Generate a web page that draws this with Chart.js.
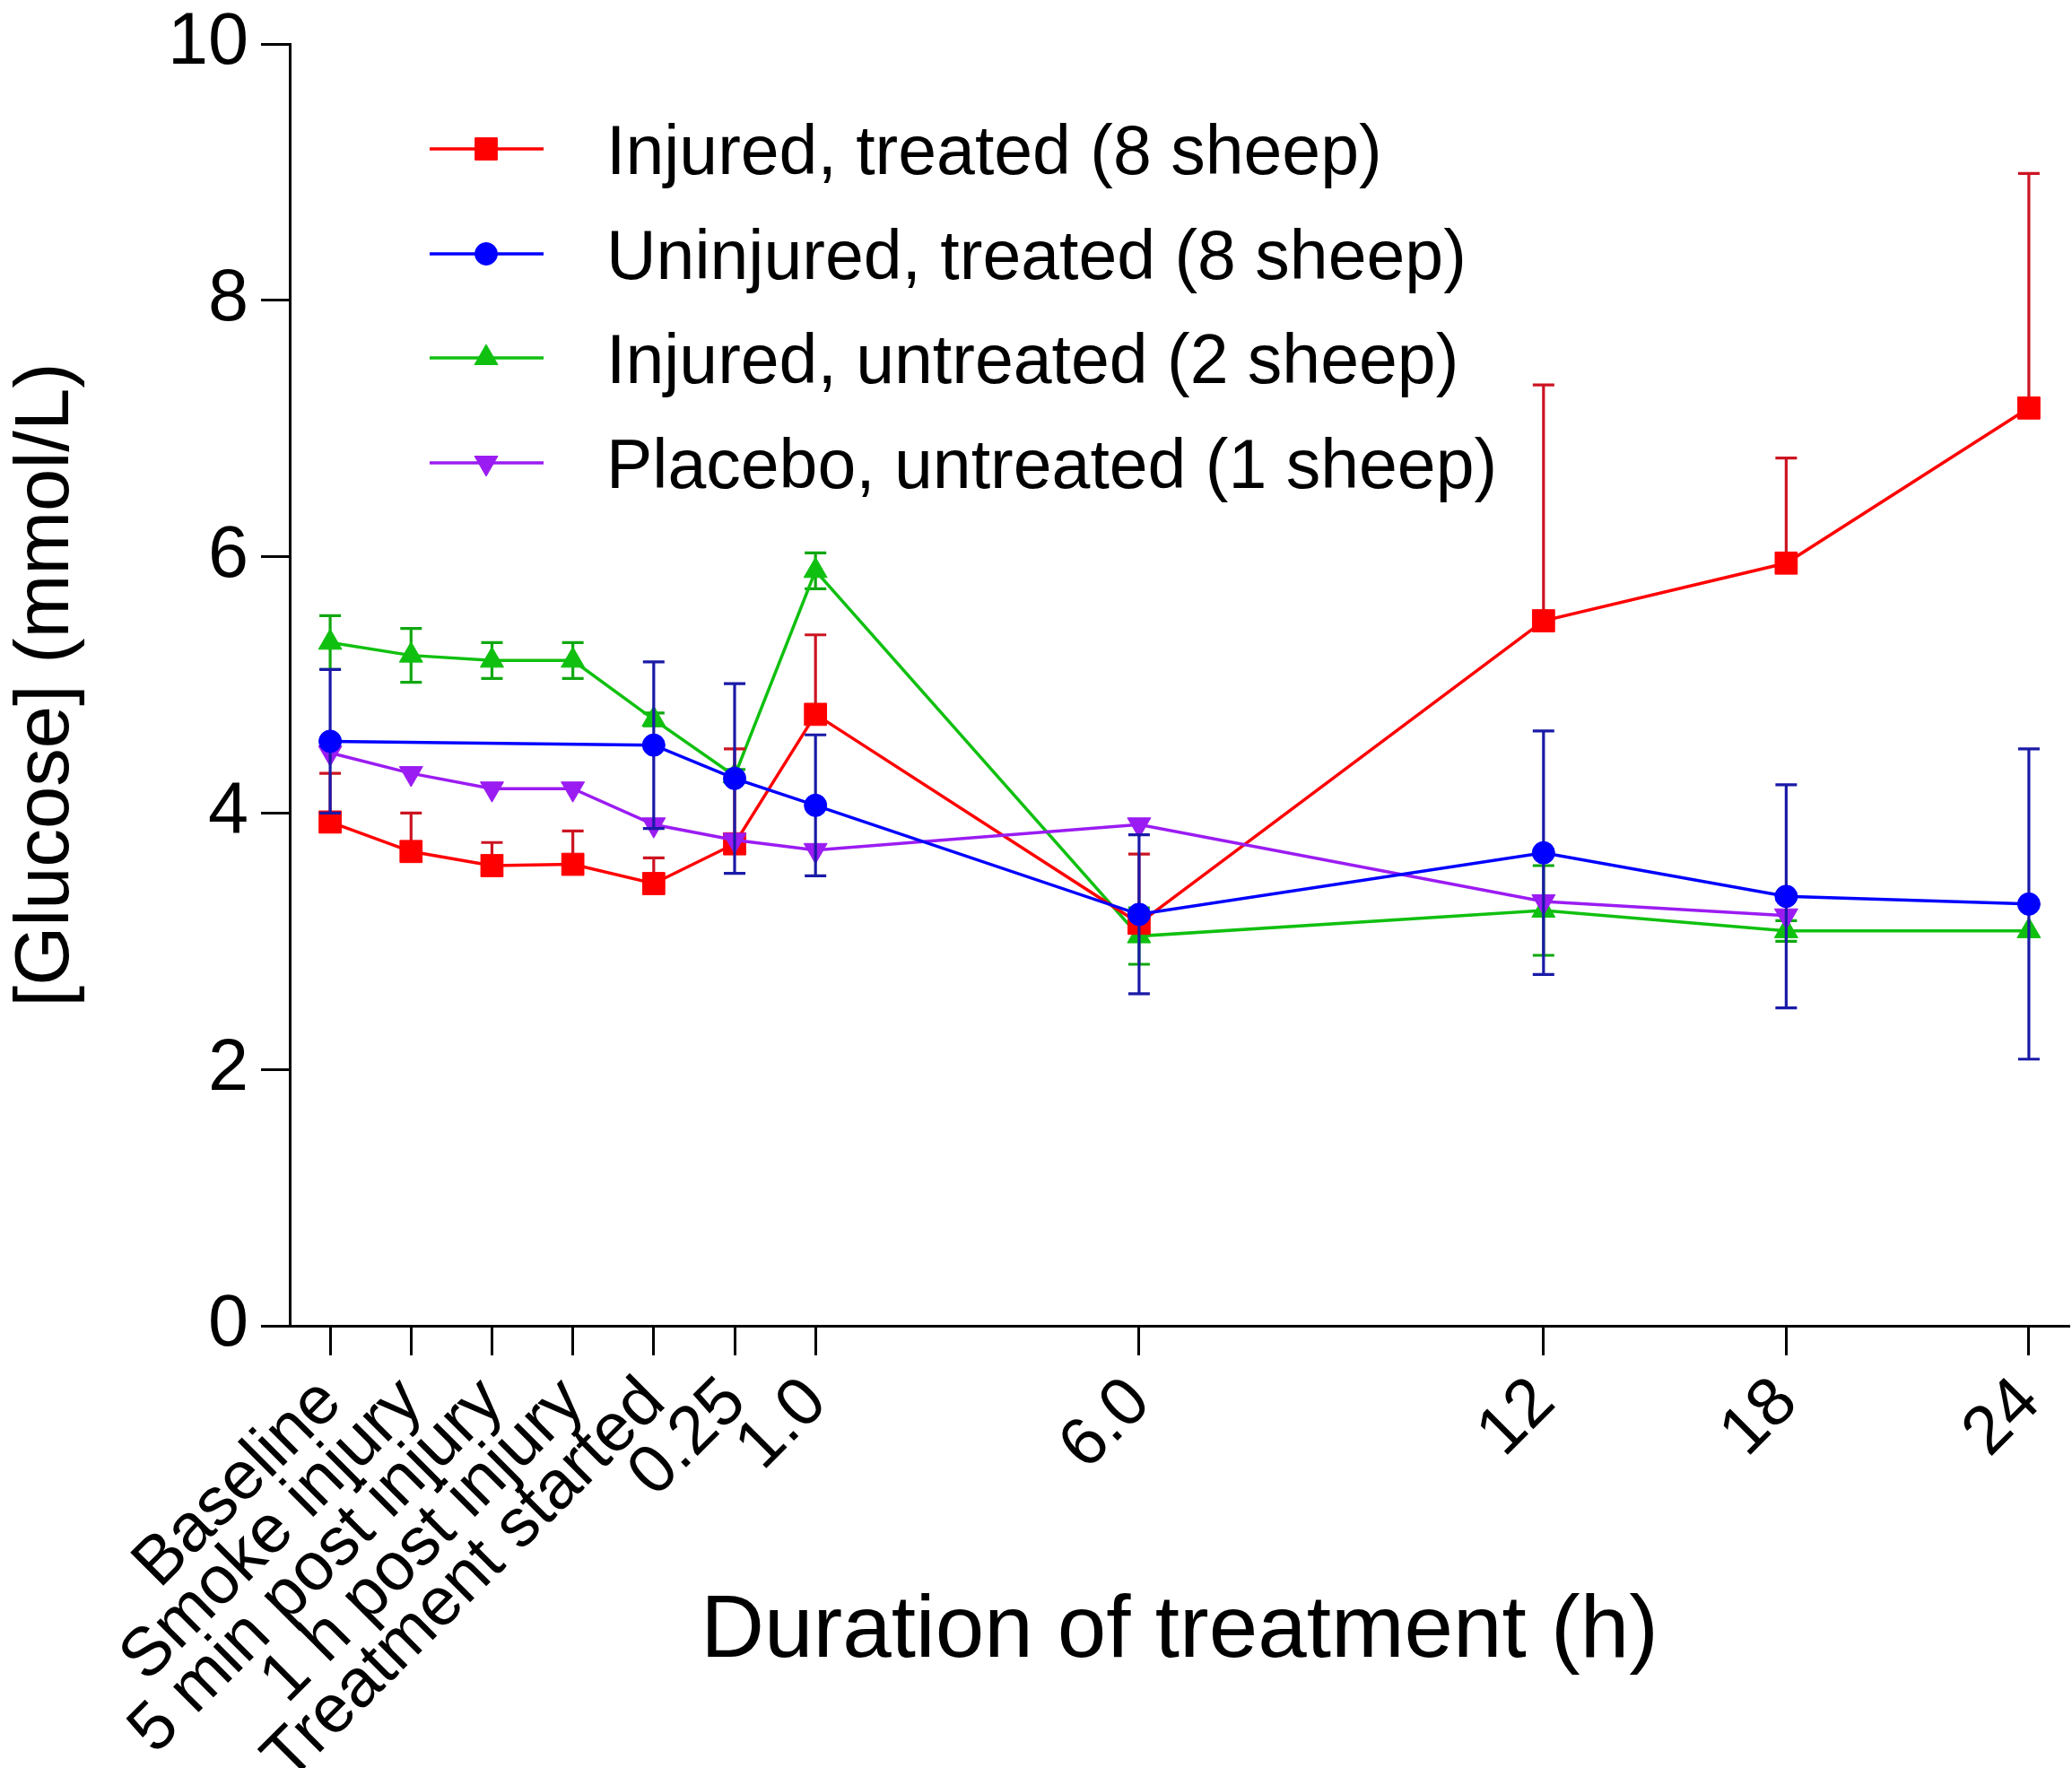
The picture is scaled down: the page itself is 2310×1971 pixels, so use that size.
<!DOCTYPE html>
<html>
<head>
<meta charset="utf-8">
<title>Blood glucose during treatment</title>
<script src="https://cdn.jsdelivr.net/npm/chart.js@4"></script>
<style>
  html, body { margin: 0; padding: 0; background: #ffffff; }
  #wrap { width: 2310px; height: 1971px; }
</style>
</head>
<body>
<div id="wrap"><canvas id="chart" width="2310" height="1971"></canvas></div>
<script>
// Sampling points and where each one sits along the horizontal axis
const TIME_LABELS = ['Baseline', 'Smoke injury', '5 min post injury', '1 h post injury',
                     'Treatment started', '0.25', '1.0', '6.0', '12', '18', '24'];
const TIME_POS = [0, 1, 2, 3, 4, 5, 6, 10, 15, 18, 21];
const Y_TICKS = [0, 2, 4, 6, 8, 10];

// Mean glucose (mmol/L) and error for each group
const INJURED_TREATED      = [3.93, 3.70, 3.59, 3.60, 3.45, 3.76, 4.77, 3.14, 5.50, 5.95, 7.16];
const INJURED_TREATED_ERR  = [0.38, 0.30, 0.18, 0.26, 0.20, 0.74, 0.62, 0.54, 1.84, 0.82, 1.83];

const UNINJURED_TREATED     = [4.56, null, null, null, 4.53, 4.27, 4.06, 3.21, 3.69, 3.35, 3.29];
const UNINJURED_TREATED_ERR = [0.56, null, null, null, 0.65, 0.74, 0.55, 0.62, 0.95, 0.87, 1.21];

const INJURED_UNTREATED     = [5.33, 5.23, 5.19, 5.19, 4.73, 4.29, 5.89, 3.04, 3.24, 3.08, 3.08];
const INJURED_UNTREATED_ERR = [0.21, 0.21, 0.14, 0.14, 0.05, 0.05, 0.14, 0.22, 0.35, 0.08, 0.00];

const PLACEBO_UNTREATED = [4.47, 4.31, 4.19, 4.19, 3.91, 3.79, 3.71, 3.91, 3.31, 3.20, null];

const FONT = '"Liberation Sans", Arial, Helvetica, sans-serif';
Chart.defaults.font.family = FONT;
Chart.defaults.color = '#000000';

function toPoints(values) {
  const pts = [];
  values.forEach((v, i) => { pts.push({ x: TIME_POS[i], y: v }); });
  return pts;
}

function series(label, values, color, style, radius, rotation, order, errors, errColor, errMode) {
  return {
    label: label,
    data: toPoints(values),
    borderColor: color,
    backgroundColor: color,
    borderWidth: 3.5,
    pointStyle: style,
    pointRadius: radius,
    pointRotation: rotation,
    pointBackgroundColor: color,
    pointBorderColor: color,
    pointBorderWidth: 1,
    pointHoverRadius: radius,
    tension: 0,
    spanGaps: true,
    order: order,
    errors: errors,
    errorColor: errColor,
    errorMode: errMode
  };
}

const datasets = [
  series('Injured, treated (8 sheep)', INJURED_TREATED, '#ff0000', 'rect', 17.5, 0, 2,
         INJURED_TREATED_ERR, '#cc1422', 'up'),
  series('Uninjured, treated (8 sheep)', UNINJURED_TREATED, '#0000ff', 'circle', 12.5, 0, 0,
         UNINJURED_TREATED_ERR, '#1a1aa8', 'both'),
  series('Injured, untreated (2 sheep)', INJURED_UNTREATED, '#10c010', 'triangle', 15, 0, 3,
         INJURED_UNTREATED_ERR, '#10a810', 'both'),
  series('Placebo, untreated (1 sheep)', PLACEBO_UNTREATED, '#9b1cf2', 'triangle', 15, 180, 1,
         null, null, null)
];

// Vertical error bars with caps, drawn just before each group's line and markers
const errorBars = {
  id: 'errorBars',
  beforeDatasetDraw(chart, args) {
    const ds = chart.data.datasets[args.index];
    if (!ds.errors) return;
    const xs = chart.scales.x, ys = chart.scales.y, ctx = chart.ctx;
    const cap = 12;
    ctx.save();
    ctx.strokeStyle = ds.errorColor;
    ctx.lineWidth = 3.2;
    ds.data.forEach((p, i) => {
      const e = ds.errors[i];
      if (p.y === null || e === null || e <= 0) return;
      const px = xs.getPixelForValue(p.x);
      const pc = ys.getPixelForValue(p.y);
      const pt = ys.getPixelForValue(p.y + e);
      const pb = ds.errorMode === 'up' ? pc : ys.getPixelForValue(p.y - e);
      ctx.beginPath();
      ctx.moveTo(px, pt); ctx.lineTo(px, pb);
      ctx.moveTo(px - cap, pt); ctx.lineTo(px + cap, pt);
      if (ds.errorMode !== 'up') { ctx.moveTo(px - cap, pb); ctx.lineTo(px + cap, pb); }
      ctx.stroke();
    });
    ctx.restore();
  }
};

// Legend inside the plot area, upper left
const insideLegend = {
  id: 'insideLegend',
  afterDraw(chart) {
    const ctx = chart.ctx;
    const rows = [166, 283, 399, 516];
    const lineX0 = 479, lineX1 = 606, markX = 542, textX = 676;
    ctx.save();
    chart.data.datasets.forEach((ds, i) => {
      const y = rows[i];
      ctx.strokeStyle = ds.borderColor;
      ctx.lineWidth = 3.5;
      ctx.beginPath();
      ctx.moveTo(lineX0, y); ctx.lineTo(lineX1, y);
      ctx.stroke();
      ctx.fillStyle = ds.borderColor;
      ctx.lineWidth = 1;
      Chart.helpers.drawPoint(ctx, {
        pointStyle: ds.pointStyle, radius: ds.pointRadius,
        rotation: ds.pointRotation, borderWidth: 1
      }, markX, y);
      ctx.fillStyle = '#000000';
      ctx.font = '77px ' + FONT;
      ctx.textAlign = 'left';
      ctx.textBaseline = 'alphabetic';
      ctx.fillText(ds.label, textX, y + 28);
    });
    ctx.restore();
  }
};

new Chart(document.getElementById('chart'), {
  type: 'line',
  data: { datasets: datasets },
  plugins: [errorBars, insideLegend],
  options: {
    responsive: false,
    maintainAspectRatio: false,
    devicePixelRatio: 1,
    animation: false,
    layout: { autoPadding: false, padding: { top: 49, right: 3, left: 0, bottom: 0 } },
    plugins: { legend: { display: false }, tooltip: { enabled: false } },
    scales: {
      x: {
        type: 'linear',
        min: -0.5,
        max: 21.5,
        afterBuildTicks(scale) { scale.ticks = TIME_POS.map(v => ({ value: v })); },
        afterFit(scale) {
          scale.height = 493;
          scale.paddingLeft = 0; scale.paddingRight = 0;
        },
        ticks: {
          autoSkip: false,
          minRotation: 45,
          maxRotation: 45,
          padding: 8,
          labelOffset: 1,
          color: '#000000',
          font: { size: 76 },
          callback(value) {
            const i = TIME_POS.indexOf(value);
            return i >= 0 ? TIME_LABELS[i] : '';
          }
        },
        grid: {
          drawOnChartArea: false,
          drawTicks: true,
          tickLength: 33,
          tickWidth: 3,
          tickColor: '#000000',
          color: '#000000'
        },
        border: { display: true, color: '#000000', width: 3 },
        title: {
          display: true,
          text: 'Duration of treatment (h)',
          color: '#000000',
          font: { size: 98 },
          padding: { top: 0, bottom: 92 }
        }
      },
      y: {
        type: 'linear',
        min: 0,
        max: 10,
        afterBuildTicks(scale) { scale.ticks = Y_TICKS.map(v => ({ value: v })); },
        afterFit(scale) {
          scale.width = 323;
          scale.paddingTop = 0; scale.paddingBottom = 0;
        },
        ticks: {
          padding: 14,
          color: '#000000',
          font: { size: 81 }
        },
        grid: {
          drawOnChartArea: false,
          drawTicks: true,
          tickLength: 32,
          tickWidth: 3,
          tickColor: '#000000',
          color: '#000000'
        },
        border: { display: true, color: '#000000', width: 3 },
        title: {
          display: true,
          text: '[Glucose] (mmol/L)',
          color: '#000000',
          font: { size: 85 },
          padding: { top: 2, bottom: 0 }
        }
      }
    }
  }
});
</script>
</body>
</html>
